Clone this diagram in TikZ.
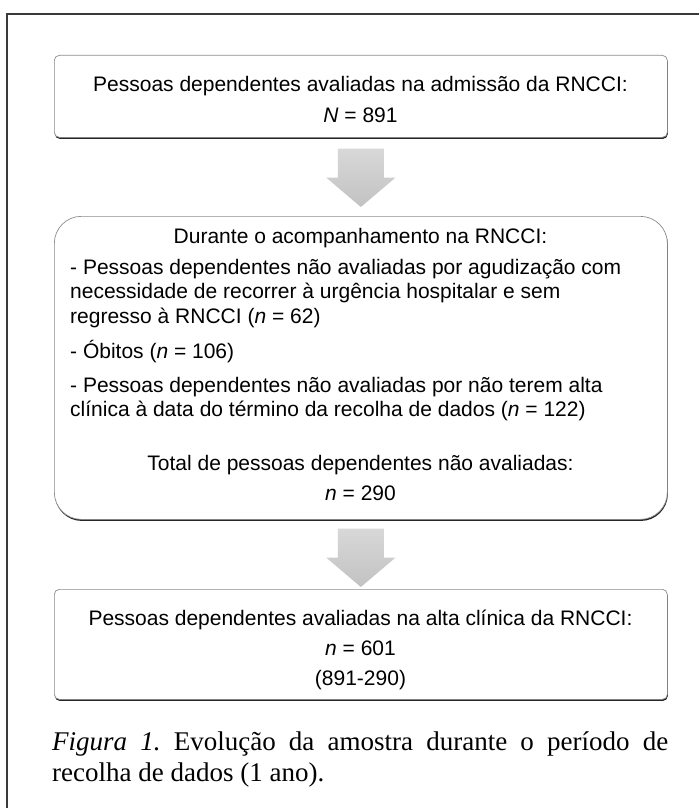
\documentclass[tikz,border=0pt]{standalone}
\usepackage{fontspec}
\setmainfont{Liberation Sans}
\newfontfamily\capfont{Liberation Serif}
\usetikzlibrary{shadows,calc}
\definecolor{framecol}{HTML}{3A3A3A}
\definecolor{boxline}{HTML}{8C8C8C}
\definecolor{arrtop}{HTML}{D8D8D8}
\definecolor{arrbot}{HTML}{C2C2C2}
\frenchspacing
\begin{document}
\begin{tikzpicture}[x=1pt,y=-1pt,
  boxshape/.style={draw=boxline, line width=0.7pt, fill=white, inner sep=0pt,
    anchor=north west, minimum width=613pt,
    drop shadow={shadow xshift=0.5pt, shadow yshift=-1.6pt, fill=black!85, opacity=1}},
  txt/.style={inner sep=0pt, font=\fontsize{21}{24.5}\selectfont},
  arrowfill/.style={top color=arrtop, bottom color=arrbot, draw=none},
  captxt/.style={inner sep=0pt, anchor=base west, font=\capfont\fontsize{27}{31}\selectfont}
]
\useasboundingbox (0,0) rectangle (699,808);
\fill[white] (0,0) rectangle (699,808);
% outer frame
\draw[framecol, line width=1.3pt] (7,808) -- (7,14) -- (699,14);

% boxes
\node[boxshape, rounded corners=5pt, minimum height=82pt] (b1) at (54,55) {};
\node[boxshape, rounded corners=27pt, minimum height=303pt] (b2) at (54,216) {};
\node[boxshape, rounded corners=5pt, minimum height=110pt] (b3) at (54,589) {};

% arrows between boxes
\coordinate (a1s) at ($(b1.south)+(0,11)$);
\coordinate (a1e) at ($(b2.north)+(0,-9)$);
\path[arrowfill] ($(a1s)+(-23,0)$) -- ($(a1s)+(23,0)$) -- ($(a1s)+(23,29)$) -- ($(a1s)+(34.5,29)$)
  -- (a1e) -- ($(a1s)+(-34.5,29)$) -- ($(a1s)+(-23,29)$) -- cycle;
\coordinate (a2s) at ($(b2.south)+(0,9)$);
\coordinate (a2e) at ($(b3.north)+(0,-2)$);
\path[arrowfill] ($(a2s)+(-23,0)$) -- ($(a2s)+(23,0)$) -- ($(a2s)+(23,29)$) -- ($(a2s)+(34.5,29)$)
  -- (a2e) -- ($(a2s)+(-34.5,29)$) -- ($(a2s)+(-23,29)$) -- cycle;

% box 1 text
\node[txt, anchor=base] (t11) at (360.5,92) {Pessoas dependentes avaliadas na admissão da RNCCI:};
\node[txt, anchor=base] (t12) at (360.5,122) {\textit{N} = 891};

% box 2 text
\node[txt, anchor=base] (t21) at (360.5,243) {Durante o acompanhamento na RNCCI:};
\node[txt, anchor=base west] (t22) at (70,274) {- Pessoas dependentes não avaliadas por agudização com};
\node[txt, anchor=base west] (t23) at (70,298.5) {necessidade de recorrer à urgência hospitalar e sem};
\node[txt, anchor=base west] (t24) at (70,323) {regresso à RNCCI (\textit{n} = 62)};
\node[txt, anchor=base west] (t25) at (70,358) {- Óbitos (\textit{n} = 106)};
\node[txt, anchor=base west] (t26) at (70,392) {- Pessoas dependentes não avaliadas por não terem alta};
\node[txt, anchor=base west] (t27) at (70,416.5) {clínica à data do término da recolha de dados (\textit{n} = 122)};
\node[txt, anchor=base] (t28) at (360.5,470) {Total de pessoas dependentes não avaliadas:};
\node[txt, anchor=base] (t29) at (360.5,500) {\textit{n} = 290};

% box 3 text
\node[txt, anchor=base] (t31) at (360.5,625) {Pessoas dependentes avaliadas na alta clínica da RNCCI:};
\node[txt, anchor=base] (t32) at (360.5,655) {\textit{n} = 601};
\node[txt, anchor=base] (t33) at (360.5,685) {(891-290)};

% caption
\node[captxt] (c1) at (52,750) {\makebox[616pt][s]{\textit{Figura 1.} Evolução da amostra durante o período de}};
\node[captxt] (c2) at (52,781) {recolha de dados (1 ano).};
\end{tikzpicture}
\end{document}
